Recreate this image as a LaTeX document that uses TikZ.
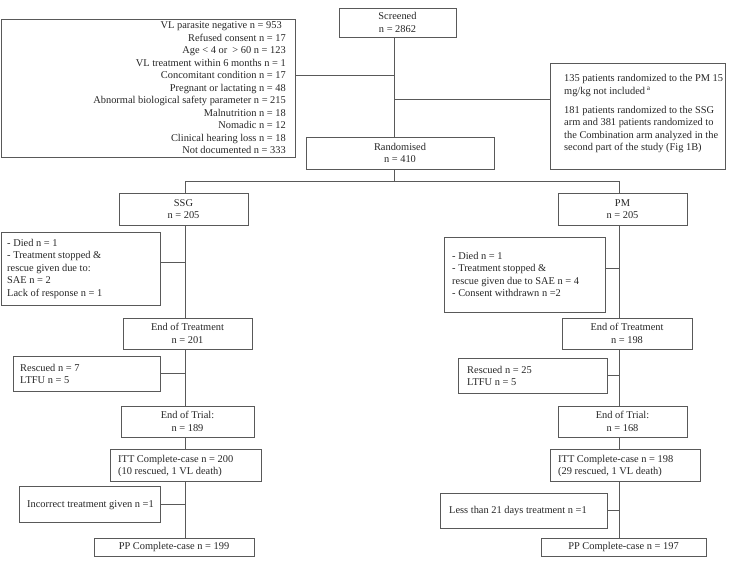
\documentclass[tikz,border=0pt]{standalone}
\usepackage{fontspec}
\setmainfont{Liberation Serif}
\begin{document}
\begin{tikzpicture}[x=1pt,y=-1pt,
  font=\fontsize{10.4}{12.5}\selectfont,
  box/.style={draw=black!65, line width=0.9pt, inner sep=0pt, align=center, text=black!85},
  txt/.style={inner sep=0pt, text=black!85},
  conn/.style={draw=black!65, line width=0.9pt}
]
\useasboundingbox (0,0) rectangle (729,563);
% top
\node[box, minimum width=294pt, minimum height=138pt] (excl) at (148,88) {};
\node[txt, anchor=east, align=right] (excltxt) at (286,88) {VL parasite negative n = 953\hspace*{4pt}\\ Refused consent n = 17\\ Age < 4 or~~> 60 n = 123\\ VL treatment within 6 months n = 1\\ Concomitant condition n = 17\\ Pregnant or lactating n = 48\\ Abnormal biological safety parameter n = 215\\ Malnutrition n = 18\\ Nomadic n = 12\\ Clinical hearing loss n = 18\\ Not documented n = 333};
\node[box, minimum width=117pt, minimum height=29pt] (scr) at (397.5,22.5) {Screened\\ n = 2862};
\node[box, minimum width=188pt, minimum height=32pt] (rnd) at (400,153) {Randomised\\ n = 410};
\node[box, minimum width=175pt, minimum height=106pt] (rbox) at (637.5,116) {};
\node[txt, anchor=west, align=left] (rtxt) at (564,114) {135 patients randomized to the PM 15\\ mg/kg not included\,\textsuperscript{a}\\[6.5pt] 181 patients randomized to the SSG\\ arm and 381 patients randomized to\\ the Combination arm analyzed in the\\ second part of the study (Fig 1B)};
% SSG arm
\node[box, minimum width=129pt, minimum height=32pt] (ssg) at (183.5,209) {SSG\\ n = 205};
\node[box, minimum width=159pt, minimum height=73pt] (died1) at (80.5,268.5) {};
\node[txt, anchor=west, align=left] (died1txt) at (7,268.5) {- Died n = 1\\ - Treatment stopped \&\\ rescue given due to:\\ SAE n = 2\\ Lack of response n = 1};
\node[box, minimum width=129pt, minimum height=31pt] (eot1) at (187.5,333.5) {End of Treatment\\ n = 201};
\node[box, minimum width=147pt, minimum height=35pt] (resc1) at (86.5,373.5) {};
\node[txt, anchor=west, align=left] (resc1txt) at (20,374) {Rescued n = 7\\ LTFU n = 5};
\node[box, minimum width=133pt, minimum height=31pt] (etr1) at (187.5,421.5) {End of Trial:\\ n = 189};
\node[box, minimum width=151pt, minimum height=32pt] (itt1) at (185.5,465) {};
\node[txt, anchor=west, align=left] (itt1txt) at (118,466) {ITT Complete-case n = 200\\ (10 rescued, 1 VL death)};
\node[box, minimum width=141pt, minimum height=36pt] (inc1) at (89.5,504) {};
\node[txt, anchor=west, align=left] (inc1txt) at (27,505) {Incorrect treatment given n =1};
\node[box, minimum width=160pt, minimum height=18pt] (pp1) at (174,547) {PP Complete-case n = 199};
% PM arm
\node[box, minimum width=129pt, minimum height=32pt] (pm) at (622.5,209) {PM\\ n = 205};
\node[box, minimum width=161pt, minimum height=75pt] (died2) at (524.5,274.5) {};
\node[txt, anchor=west, align=left] (died2txt) at (452,274.5) {- Died n = 1\\ - Treatment stopped \&\\ rescue given due to SAE n = 4\\ - Consent withdrawn n =2};
\node[box, minimum width=130pt, minimum height=31pt] (eot2) at (627,333.5) {End of Treatment\\ n = 198};
\node[box, minimum width=149pt, minimum height=35pt] (resc2) at (532.5,375.5) {};
\node[txt, anchor=west, align=left] (resc2txt) at (467,376) {Rescued n = 25\\ LTFU n = 5};
\node[box, minimum width=129pt, minimum height=31pt] (etr2) at (622.5,421.5) {End of Trial:\\ n = 168};
\node[box, minimum width=150pt, minimum height=32pt] (itt2) at (625,465) {};
\node[txt, anchor=west, align=left] (itt2txt) at (558,466) {ITT Complete-case n = 198\\ (29 rescued, 1 VL death)};
\node[box, minimum width=167pt, minimum height=35pt] (less2) at (523.5,510.5) {};
\node[txt, anchor=west, align=left] (less2txt) at (449,511) {Less than 21 days treatment n =1};
\node[box, minimum width=165pt, minimum height=18pt] (pp2) at (623.5,547) {PP Complete-case n = 197};
% connectors
\coordinate (mx) at (394,0);
\coordinate (sx) at (185,0);
\coordinate (px) at (619,0);
\coordinate (split) at (394,181);
\coordinate (rj) at (394,99.5);
\draw[conn] (scr.south -| mx) -- (rnd.north -| mx);
\draw[conn] ([yshift=13pt]excl.east) -- ([yshift=13pt]excl.east -| mx);
\draw[conn] (rj) -- (rj -| rbox.west);
\draw[conn] (rnd.south -| mx) -- (split);
\draw[conn] (split -| sx) -- (split -| px);
\draw[conn] (split -| sx) -- (ssg.north -| sx);
\draw[conn] (split -| px) -- (pm.north -| px);
\draw[conn] (ssg.south -| sx) -- (eot1.north -| sx);
\draw[conn] (eot1.south -| sx) -- (etr1.north -| sx);
\draw[conn] (etr1.south -| sx) -- (itt1.north -| sx);
\draw[conn] (itt1.south -| sx) -- (pp1.north -| sx);
\draw[conn] ([yshift=6.5pt]died1.east) -- ([yshift=6.5pt]died1.east -| sx);
\draw[conn] (resc1.east) -- (resc1.east -| sx);
\draw[conn] (inc1.east) -- (inc1.east -| sx);
\draw[conn] (pm.south -| px) -- (eot2.north -| px);
\draw[conn] (eot2.south -| px) -- (etr2.north -| px);
\draw[conn] (etr2.south -| px) -- (itt2.north -| px);
\draw[conn] (itt2.south -| px) -- (pp2.north -| px);
\draw[conn] ([yshift=6.5pt]died2.east) -- ([yshift=6.5pt]died2.east -| px);
\draw[conn] (resc2.east) -- (resc2.east -| px);
\draw[conn] (less2.east) -- (less2.east -| px);
\end{tikzpicture}
\end{document}
